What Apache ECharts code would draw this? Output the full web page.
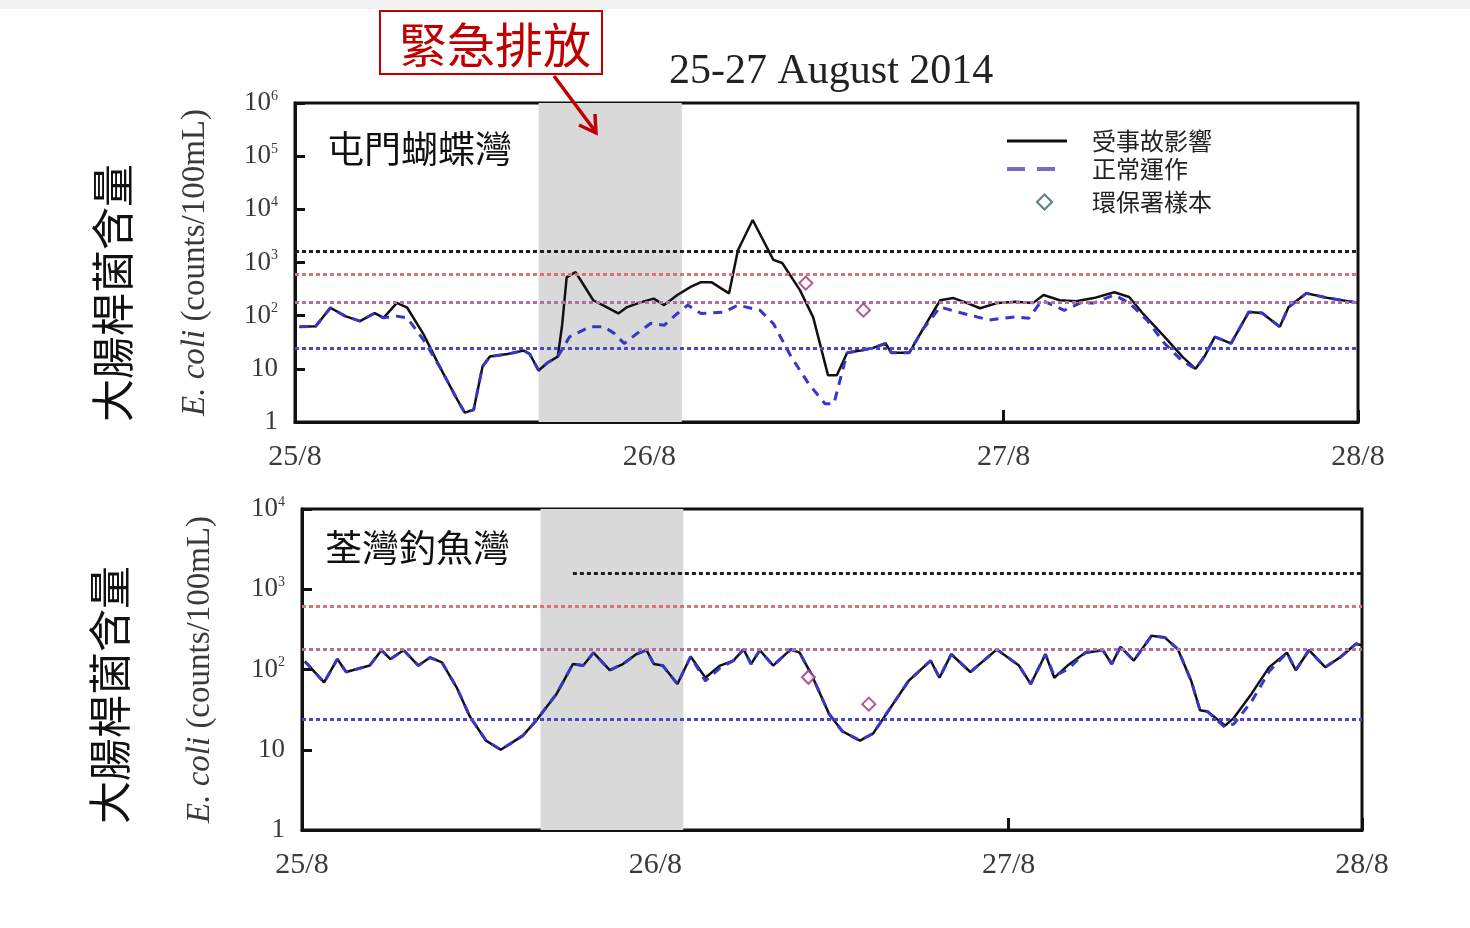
<!DOCTYPE html>
<html><head><meta charset="utf-8">
<script src="https://cdn.jsdelivr.net/npm/echarts/dist/echarts.min.js"></script>
<style>html,body{margin:0;padding:0;background:#fff}#c{width:1470px;height:928px}</style>
</head><body><div id="c"></div><script>
// ---- data ----
const dayLabels = ['25/8', '26/8', '27/8', '28/8'];
const thresholds = [1600, 610, 180, 24];
const releaseStartHour = 16.5, releaseEndHour = 26.2;

// Top panel: 屯門蝴蝶灣 (hours since 25/8 00:00, E. coli counts/100mL)
const tmAffectedHours = [0.3,1.4,2.4,3.4,4.4,5.4,6.0,6.9,7.6,8.7,9.8,11.0,11.5,12.1,12.7,13.2,14.4,15.5,15.9,16.5,17.1,17.8,18.1,18.4,19.0,19.5,20.2,21.1,21.9,22.5,23.4,24.3,25.0,25.9,26.8,27.5,28.2,29.4,30.0,31.0,32.4,33.0,34.2,35.1,36.1,36.7,37.4,38.3,39.2,40.0,40.4,41.6,42.5,43.7,44.6,45.5,46.4,47.6,48.8,50.0,50.7,51.8,52.9,54.1,55.5,56.5,57.4,58.9,60.1,61.0,61.6,62.3,63.4,64.6,65.5,66.7,67.3,68.5,70.0,72.0];
const tmAffectedValues = [62,63,141,98,79,112,91,174,141,45,11,2.6,1.5,1.7,11,17,19,22,19,9.3,13,17,69,525,661,398,195,145,110,145,178,209,158,245,347,427,427,263,1698,6310,1122,977,302,93,7.6,7.6,20,22,25,30,20,20,54,195,214,174,138,174,182,174,245,195,186,214,275,224,112,40,17,10,17,40,30,117,112,62,145,263,214,174];
const tmNormalHours = [0.3,1.4,2.4,3.4,4.4,5.4,6.0,6.9,7.6,8.7,9.8,11.0,11.5,12.1,12.7,13.2,14.4,15.5,15.9,16.5,17.1,17.8,18.6,20.0,20.9,21.6,22.3,23.2,24.1,25.0,25.9,26.6,27.5,29.1,30.0,31.5,32.4,33.6,34.8,35.9,36.5,37.4,38.3,39.2,40.0,40.4,41.6,42.5,43.7,44.9,47.0,48.8,49.7,50.6,52.1,53.2,54.1,55.5,56.5,57.7,58.9,60.1,61.0,61.6,62.3,63.4,64.6,65.5,66.7,67.3,68.5,70.0,72.0];
const tmNormalValues = [62,63,141,98,79,112,91,98,91,35,11,2.6,1.5,1.7,11,17,19,22,19,9.3,13,17,40,62,62,47,30,47,72,66,110,158,110,117,158,126,71,17,5.2,2.2,2.2,20,22,25,30,20,20,54,145,117,83,95,89,195,126,174,174,245,174,83,30,14,10,17,40,30,117,112,62,145,263,214,174];
const tmSampleHours = [34.6, 38.5];
const tmSampleValues = [410, 127];

// Bottom panel: 荃灣釣魚灣
const twAffectedHours = [0.2,1.5,2.4,3.0,4.6,5.4,6.0,6.9,7.9,8.7,9.5,10.5,11.4,12.5,13.5,15.0,15.9,17.3,18.4,19.1,19.8,20.9,21.8,22.7,23.4,23.9,24.5,25.5,26.4,27.4,28.4,29.3,30.0,30.5,31.1,32.0,33.2,33.8,34.6,35.8,36.7,37.9,38.8,40.0,41.2,42.7,43.3,44.1,45.4,47.2,48.7,49.5,50.5,51.1,52.0,53.2,54.4,55.0,55.6,56.5,57.7,58.6,59.5,60.4,61.0,61.5,62.7,63.3,64.5,65.7,66.9,67.5,68.4,69.5,70.5,71.6,72.0];
const twAffectedValues = [126,69,135,93,112,174,135,174,112,141,123,60,26,13,10,15,23,50,117,112,162,98,117,155,174,117,112,66,145,79,112,129,178,117,174,112,178,162,87,28,17,13,16,34,72,129,79,155,93,178,112,66,155,79,112,162,174,117,191,129,263,251,178,72,31,30,20,25,50,107,162,98,174,107,141,209,200];
const twNormalHours = twAffectedHours;
const twNormalValues = [126,69,135,93,112,174,135,174,112,141,123,60,26,13,10,15,23,50,117,112,162,98,117,155,174,117,112,66,145,72,105,129,178,117,174,112,178,162,87,28,17,13,16,34,72,129,79,155,93,178,112,66,155,83,100,162,174,117,191,129,263,251,178,72,31,30,19,21,40,95,162,98,174,107,141,209,200];
const twSampleHours = [34.4, 38.5];
const twSampleValues = [80, 37];

// ---- chart ----
const pair = (h, v) => h.map((x, i) => [x, v[i]]);
const serif = '"Liberation Serif", "DejaVu Serif", serif';
const cjk = '"Noto Sans CJK TC", "Noto Sans CJK SC", sans-serif';
const refColors = ['#1e1e28', '#dd7474', '#b07098', '#4848c8'];

function yLabel(v) {
  const e = Math.round(Math.log10(v));
  if (e === 0) return '1';
  if (e === 1) return '10';
  return '10{s|' + e + '}';
}
function xAxisCfg(gi) {
  return {
    gridIndex: gi, type: 'value', min: 0, max: 72, interval: 24,
    axisLine: { show: true, lineStyle: { color: '#111', width: 3 } },
    axisTick: { show: true, inside: true, length: 12, lineStyle: { color: '#111', width: 3 } },
    axisLabel: { formatter: v => dayLabels[Math.round(v / 24)], fontFamily: serif, fontSize: 30, color: '#3a3a3a', margin: 20 },
    splitLine: { show: false }
  };
}
function yAxisCfg(gi, max, split, gap) {
  return {
    gridIndex: gi, type: 'log', logBase: 10, min: 1, max: max, splitNumber: split,
    name: '{i|E. coli} (counts/100mL)', nameLocation: 'middle', nameGap: gap,
    nameTextStyle: { fontFamily: serif, fontSize: 33, color: '#3a3a3a',
      rich: { i: { fontStyle: 'italic', fontFamily: serif, fontSize: 33, color: '#3a3a3a' } } },
    axisLine: { show: true, lineStyle: { color: '#111', width: 3 } },
    axisTick: { show: true, inside: true, length: 10, lineStyle: { color: '#111', width: 3 } },
    minorTick: { show: false },
    axisLabel: { formatter: yLabel, fontFamily: serif, fontSize: 27, color: '#3a3a3a', margin: 17,
      rich: { s: { fontSize: 14, fontFamily: serif, color: '#3a3a3a', verticalAlign: 'top', padding: [0, 0, 14, 0] } } },
    splitLine: { show: false }
  };
}
function refLines(gi, firstStart) {
  return thresholds.map((t, i) => {
    const ls = { color: refColors[i], width: 3, type: [4, 3] };
    if (i === 0 && firstStart != null) {
      return [{ coord: [firstStart, t], lineStyle: ls }, { coord: [72, t] }];
    }
    return { yAxis: t, lineStyle: ls };
  });
}
function panelSeries(gi, aH, aV, nH, nV, sH, sV, firstStart, shadeShift) {
  return [
    { type: 'line', xAxisIndex: gi, yAxisIndex: gi, data: [], z: 1, silent: true,
      markArea: { silent: true, itemStyle: { color: '#d9d9d9' },
        data: [[{ xAxis: releaseStartHour + shadeShift }, { xAxis: releaseEndHour + shadeShift }]] } },
    { type: 'line', xAxisIndex: gi, yAxisIndex: gi, data: [], z: 2, silent: true,
      markLine: { silent: true, symbol: ['none', 'none'], label: { show: false },
        data: refLines(gi, firstStart) } },
    { name: '受事故影響', type: 'line', xAxisIndex: gi, yAxisIndex: gi, data: pair(aH, aV),
      symbol: 'none', z: 3, lineStyle: { color: '#111', width: 2.5 }, itemStyle: { color: '#111' } },
    { name: '正常運作', type: 'line', xAxisIndex: gi, yAxisIndex: gi, data: pair(nH, nV),
      symbol: 'none', z: 4, lineStyle: { color: '#3636c8', width: 3, type: [9, 7] }, itemStyle: { color: '#3636c8' } },
    { name: '環保署樣本', type: 'scatter', xAxisIndex: gi, yAxisIndex: gi, data: pair(sH, sV),
      symbol: 'emptyDiamond', symbolSize: 13, z: 5, itemStyle: { color: '#a02b7a', borderWidth: 2 } }
  ];
}

const legendText = { fontFamily: cjk, fontSize: 24, color: '#222' };
const chart = echarts.init(document.getElementById('c'));
chart.setOption({
  animation: false,
  backgroundColor: '#fff',
  title: { text: '25-27 August 2014', left: 664, top: 46,
    textStyle: { fontFamily: serif, fontSize: 42, fontWeight: 'normal', color: '#222' } },
  legend: [
    {
      orient: 'vertical', left: 1000, top: 124, itemWidth: 60, itemHeight: 14, itemGap: 4,
      selectedMode: false,
      textStyle: Object.assign({ padding: [0, 0, 0, 20] }, legendText),
      data: [
        { name: '受事故影響', itemStyle: { opacity: 0 }, lineStyle: { color: '#111', width: 3, type: 'solid' } },
        { name: '正常運作', itemStyle: { opacity: 0 }, lineStyle: { color: '#7070c8', width: 4, type: [18, 12] } }
      ]
    },
    {
      orient: 'vertical', left: 1031, top: 185, itemWidth: 15, itemHeight: 15,
      selectedMode: false,
      textStyle: Object.assign({ padding: [0, 0, 0, 35] }, legendText),
      data: [
        { name: '環保署樣本', icon: 'emptyDiamond', itemStyle: { color: '#2f5f6a', borderColor: '#2f5f6a', borderWidth: 2.5 } }
      ]
    }
  ],
  grid: [
    { left: 295, top: 103, width: 1063, height: 319, show: true, borderColor: '#111', borderWidth: 3, backgroundColor: '#fff' },
    { left: 302, top: 509, width: 1060, height: 321, show: true, borderColor: '#111', borderWidth: 3, backgroundColor: '#fff' }
  ],
  xAxis: [xAxisCfg(0), xAxisCfg(1)],
  yAxis: [yAxisCfg(0, 1e6, 6, 83), yAxisCfg(1, 1e4, 4, 85)],
  series: [
    ...panelSeries(0, tmAffectedHours, tmAffectedValues, tmNormalHours, tmNormalValues, tmSampleHours, tmSampleValues, null, 0),
    ...panelSeries(1, twAffectedHours, twAffectedValues, twNormalHours, twNormalValues, twSampleHours, twSampleValues, 18.4, -0.3)
  ],
  graphic: [
    { type: 'rect', shape: { x: 0, y: 0, width: 1470, height: 9 }, style: { fill: '#f2f2f2' }, silent: true },
    { type: 'rect', shape: { x: 380, y: 11, width: 222, height: 63 }, style: { fill: '#fff', stroke: '#c00000', lineWidth: 2 }, z: 100 },
    { type: 'text', x: 495, y: 45, z: 101, style: { text: '緊急排放', font: '48px ' + cjk, fill: '#c00000', align: 'center', verticalAlign: 'middle' } },
    { type: 'line', shape: { x1: 554, y1: 76, x2: 595, y2: 131 }, style: { stroke: '#c00000', lineWidth: 3.5 }, z: 100 },
    { type: 'polyline', shape: { points: [[579, 125], [596, 133], [595, 114]] }, style: { stroke: '#c00000', lineWidth: 3.5, fill: null }, z: 100 },
    { type: 'text', x: 327, y: 149, z: 100, style: { text: '屯門蝴蝶灣', font: '37px ' + cjk, fill: '#111', align: 'left', verticalAlign: 'middle' } },
    { type: 'text', x: 325, y: 548, z: 100, style: { text: '荃灣釣魚灣', font: '37px ' + cjk, fill: '#111', align: 'left', verticalAlign: 'middle' } },
    { type: 'text', x: 113, y: 293, rotation: Math.PI / 2, z: 100, style: { text: '大腸桿菌含量', font: '43px ' + cjk, fill: '#111', align: 'center', verticalAlign: 'middle' } },
    { type: 'text', x: 110, y: 695, rotation: Math.PI / 2, z: 100, style: { text: '大腸桿菌含量', font: '43px ' + cjk, fill: '#111', align: 'center', verticalAlign: 'middle' } }
  ]
});
</script></body></html>
